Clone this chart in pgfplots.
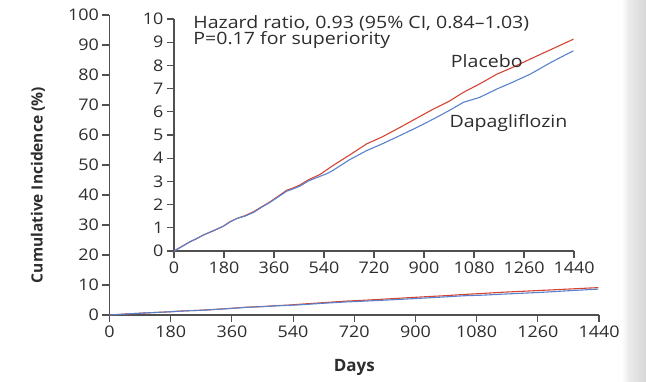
\documentclass[border=0pt]{standalone}
\usepackage{pgfplots}
\usepackage{pgfplotstable}
\pgfplotsset{compat=1.18}
\usepackage{fontspec}
\setmainfont{Open Sans}
\newfontfamily\tickfont{Open Sans}[FakeStretch=1.12]
\newfontfamily\notefont{Open Sans}[FakeStretch=1.15,Ligatures=TeX]
\definecolor{placebo}{RGB}{212,68,52}
\definecolor{dapa}{RGB}{88,130,204}
\definecolor{axisgray}{RGB}{80,80,80}
\definecolor{txt}{RGB}{45,45,45}

\pgfplotstableread{
day pct
0 0
30 0.21
58 0.40
80 0.52
106 0.69
140 0.86
178 1.07
200 1.25
226 1.40
255 1.52
286 1.69
315 1.90
346 2.12
375 2.36
406 2.62
430 2.72
454 2.85
484 3.07
526 3.30
550 3.50
573 3.69
630 4.12
694 4.62
750 4.92
814 5.33
870 5.70
934 6.12
990 6.45
1042 6.84
1100 7.20
1162 7.62
1220 7.92
1282 8.27
1360 8.70
1438 9.13
}\placebo

\pgfplotstableread{
day pct
0 0
30 0.20
58 0.40
80 0.53
106 0.69
140 0.87
178 1.07
200 1.24
226 1.40
255 1.50
286 1.66
315 1.88
346 2.10
375 2.33
406 2.58
430 2.68
454 2.80
484 3.02
526 3.22
550 3.33
573 3.48
630 3.92
694 4.33
750 4.62
814 4.98
870 5.30
934 5.69
990 6.05
1042 6.41
1100 6.62
1162 6.98
1220 7.28
1282 7.62
1360 8.15
1438 8.63
}\dapa

\pgfplotsset{
  kmstyle/.style={
    scale only axis,
    axis lines*=left,
    tick align=outside,
    major tick length=7pt,
    axis line style={axisgray, line width=1.1pt},
    tick style={axisgray, line width=1.1pt},
    xtick={0,180,...,1440},
    /pgf/number format/1000 sep={},
    /pgf/number format/assume math mode=true,
    ticklabel style={font=\tickfont\fontsize{16}{16}\selectfont, text=txt},
    clip=false,
  }
}

\begin{document}
\begin{tikzpicture}
\path[use as bounding box] (-109.5pt,-67pt) rectangle (536.5pt,315pt);
\shade[left color=white,right color=black!8] (512pt,-67pt) rectangle (519pt,315pt);
\shade[left color=black!8,right color=black!16] (519pt,-67pt) rectangle (536.5pt,315pt);

\begin{axis}[kmstyle,
  at={(0pt,0pt)}, anchor=south west,
  width=489.5pt, height=300pt,
  xmin=0, xmax=1440, ymin=0, ymax=100,
  ytick={0,10,...,100},
  xlabel={\bfseries Days},
  xlabel style={font=\fontsize{17}{17}\selectfont, text=txt, at={(axis description cs:0.5,-0.175)}, anchor=center},
  ylabel={\bfseries Cumulative Incidence (\%)},
  ylabel style={font=\fontsize{15.5}{15.5}\selectfont, text=txt, at={(axis description cs:-0.146,0.433)}, anchor=center, rotate=0},
]
\addplot[placebo, line width=1.1pt] table[x=day,y=pct] {\placebo};
\addplot[dapa, line width=1.1pt] table[x=day,y=pct] {\dapa};
\end{axis}

\begin{axis}[kmstyle,
  at={(64.5pt,64pt)}, anchor=south west,
  width=400pt, height=232pt,
  xmin=0, xmax=1440, ymin=0, ymax=10,
  ytick={0,1,...,10},
]
\addplot[placebo, line width=1.1pt] table[x=day,y=pct] {\placebo};
\addplot[dapa, line width=1.1pt] table[x=day,y=pct] {\dapa};
\node[anchor=base west, font=\notefont\fontsize{17}{17}\selectfont, text=txt, inner sep=0pt] at (axis cs:69,9.57) {Hazard ratio, 0.93 (95\% CI, 0.84\textendash 1.03)};
\node[anchor=base west, font=\notefont\fontsize{17}{17}\selectfont, text=txt, inner sep=0pt] at (axis cs:69,8.91) {P=0.17 for superiority};
\node[font=\notefont\fontsize{17}{17}\selectfont, text=txt, inner sep=0pt] at (axis cs:1126,8.2) {Placebo};
\node[font=\notefont\fontsize{17}{17}\selectfont, text=txt, inner sep=0pt] at (axis cs:1204,5.5) {Dapagliflozin};
\end{axis}
\end{tikzpicture}
\end{document}
